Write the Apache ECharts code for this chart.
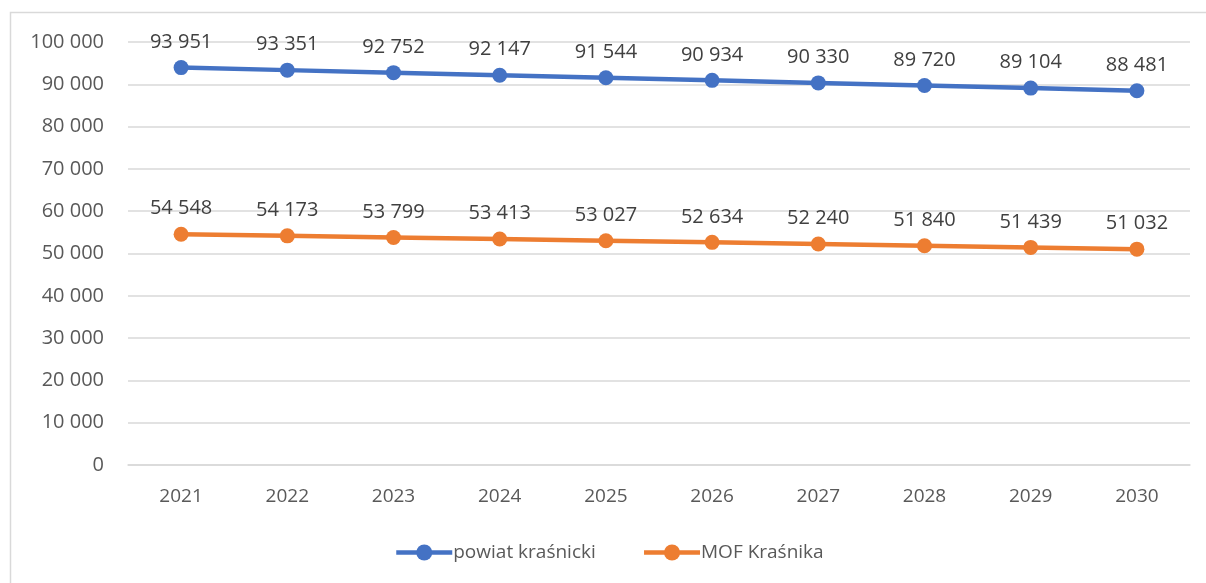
<!DOCTYPE html>
<html><head><meta charset="utf-8">
<script src="https://cdn.jsdelivr.net/npm/echarts@6/dist/echarts.min.js"></script>
<style>html,body{margin:0;padding:0;background:#fff}#c{width:1206px;height:583px}</style>
</head><body><div id="c"></div>
<script>
const categories = ['2021','2022','2023','2024','2025','2026','2027','2028','2029','2030'];
const powiat = [93951,93351,92752,92147,91544,90934,90330,89720,89104,88481];
const mof = [54548,54173,53799,53413,53027,52634,52240,51840,51439,51032];
const seriesNames = ['powiat kraśnicki','MOF Kraśnika'];
const fmt = v => String(v).replace(/\B(?=(\d{3})+(?!\d))/g, ' ');
const font = 'Open Sans';
const chart = echarts.init(document.getElementById('c'));
const mk = (name, data, color) => ({
  name, type:'line', data, color,
  symbol:'circle', symbolSize:15,
  lineStyle:{width:4.5,color},
  itemStyle:{color},
  label:{show:true,position:'top',distance:8,color:'#404040',fontFamily:font,fontSize:20,formatter:p=>fmt(p.value)}
});
chart.setOption({
  animation:false,
  graphic:[{type:'rect',shape:{x:10.5,y:12.5,width:1200,height:580},style:{fill:'none',stroke:'#d9d9d9',lineWidth:1.5},silent:true}],
  grid:{left:128,right:16,top:42,bottom:118},
  legend:{bottom:16,left:389,itemWidth:56,itemHeight:20,itemGap:46,
    lineStyle:{width:4.5},
    textStyle:{color:'#595959',fontFamily:font,fontSize:19,padding:[0,0,0,-4]},
    data:seriesNames},
  xAxis:{type:'category',data:categories,boundaryGap:true,
    axisLine:{show:true,lineStyle:{color:'#d9d9d9',width:1.5}},axisTick:{show:false},
    axisLabel:{color:'#595959',fontFamily:font,fontSize:19,margin:22}},
  yAxis:{type:'value',min:0,max:100000,interval:10000,
    axisLine:{show:false},axisTick:{show:false},
    splitLine:{lineStyle:{color:'#d9d9d9',width:1.5}},
    axisLabel:{color:'#595959',fontFamily:font,fontSize:20,margin:24,formatter:v=>fmt(v)}},
  series:[mk(seriesNames[0],powiat,'#4472C4'),mk(seriesNames[1],mof,'#ED7D31')]
});
</script></body></html>
